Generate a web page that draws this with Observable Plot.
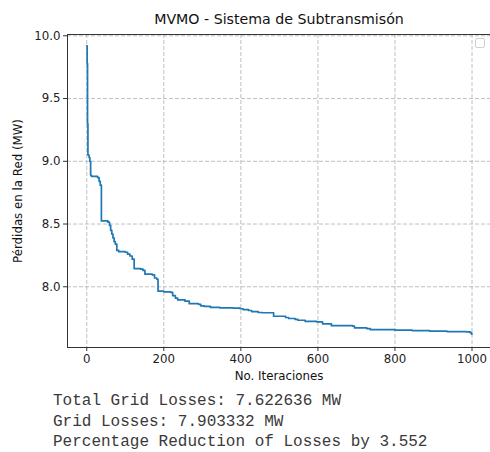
<!DOCTYPE html>
<html>
<head>
<meta charset="utf-8">
<script src="https://cdn.jsdelivr.net/npm/d3@7"></script>
<script src="https://cdn.jsdelivr.net/npm/@observablehq/plot@0.6"></script>
<style>
  html, body { margin: 0; padding: 0; background: #fff; overflow: hidden; }
  #wrap { position: relative; width: 490px; height: 452px; }
  #legendbox { position: absolute; left: 475px; top: 38px; width: 8px; height: 8px; border: 1px solid #cfcfcf; border-radius: 2px; background: #fff; }
  #results { position: absolute; left: 53px; top: 391px; font-family: "Liberation Mono", "Courier New", monospace; font-size: 16px; line-height: 20.5px; color: #3a3a3a; white-space: pre; }
</style>
</head>
<body>
<div id="wrap">
  <div id="chart"></div>
  <div id="legendbox"></div>
  <div id="results"></div>
</div>
<script>
// ---- data ----
const iterations = [0, 1, 2, 3, 6, 8, 10, 12, 28, 32, 35, 38, 55, 59, 62, 65, 68, 71, 74, 78, 83, 100, 106, 112, 118, 123, 140, 146, 151, 170, 176, 182, 185, 200, 218, 223, 230, 236, 255, 266, 290, 296, 305, 321, 345, 380, 398, 406, 420, 428, 445, 455, 485, 516, 524, 541, 548, 567, 597, 612, 635, 690, 695, 727, 736, 800, 845, 890, 935, 985, 995, 999, 1000];
const losses = [9.92, 9.78, 9.30, 9.05, 9.03, 9.00, 8.89, 8.88, 8.87, 8.84, 8.81, 8.525, 8.515, 8.49, 8.45, 8.42, 8.39, 8.36, 8.34, 8.29, 8.28, 8.275, 8.26, 8.245, 8.22, 8.145, 8.14, 8.13, 8.10, 8.095, 8.07, 8.06, 7.965, 7.96, 7.955, 7.93, 7.91, 7.895, 7.885, 7.865, 7.86, 7.848, 7.843, 7.835, 7.832, 7.83, 7.825, 7.818, 7.811, 7.802, 7.795, 7.793, 7.765, 7.755, 7.747, 7.74, 7.733, 7.724, 7.72, 7.705, 7.69, 7.686, 7.672, 7.666, 7.658, 7.655, 7.651, 7.647, 7.643, 7.641, 7.634, 7.6226, 7.6226];
const xTicks = [0, 200, 400, 600, 800, 1000];
const yTicks = [8.0, 8.5, 9.0, 9.5, 10.0];
const titleText = "MVMO - Sistema de Subtransmisón";
const xLabel = "No. Iteraciones";
const yLabel = "Pérdidas en la Red (MW)";
const resultLines = [
  "Total Grid Losses: 7.622636 MW",
  "Grid Losses: 7.903332 MW",
  "Percentage Reduction of Losses by 3.552"
];

const data = iterations.map((x, i) => ({x, y: losses[i]}));
const xDomain = [-50, 1048];
const yDomain = [7.516, 10.0104];
const gridStyle = {stroke: "#b0b0b0", strokeOpacity: 1, strokeWidth: 0.8, strokeDasharray: "4,2"};

const chart = Plot.plot({
  width: 490,
  height: 390,
  marginLeft: 67,
  marginRight: 0,
  marginTop: 34,
  marginBottom: 43,
  style: {fontFamily: "DejaVu Sans, sans-serif", fontSize: "11.8px", color: "#222", background: "#fff"},
  x: {domain: xDomain, axis: null},
  y: {domain: yDomain, axis: null},
  marks: [
    Plot.gridX(xTicks, gridStyle),
    Plot.gridY(yTicks, gridStyle),
    Plot.ruleX([xDomain[0]], {stroke: "#333", strokeWidth: 1}),
    Plot.ruleY(yDomain, {stroke: "#333", strokeWidth: 1}),
    Plot.line(data, {x: "x", y: "y", curve: "step-after", stroke: "#1f77b4", strokeWidth: 1.7}),
    Plot.axisX(xTicks, {tickSize: 4, tickPadding: 3, tickFormat: d => String(d), label: null, stroke: "#333", fontSize: 11.8}),
    Plot.axisY(yTicks, {tickSize: 4, tickPadding: 3, tickFormat: d => d.toFixed(1), label: null, stroke: "#333", fontSize: 11.8}),
    Plot.text([titleText], {text: d => d, frameAnchor: "top", dy: -15, lineAnchor: "middle", fontSize: 14.2, fill: "#111"}),
    Plot.text([xLabel], {text: d => d, frameAnchor: "bottom", dy: 29, lineAnchor: "middle", fontSize: 11.8, fill: "#111"}),
    Plot.text([yLabel], {text: d => d, frameAnchor: "left", dx: -49, rotate: -90, textAnchor: "middle", lineAnchor: "middle", fontSize: 11.8, fill: "#111"})
  ]
});
document.getElementById("chart").appendChild(chart);
document.getElementById("results").textContent = resultLines.join("\n");
</script>
</body>
</html>
